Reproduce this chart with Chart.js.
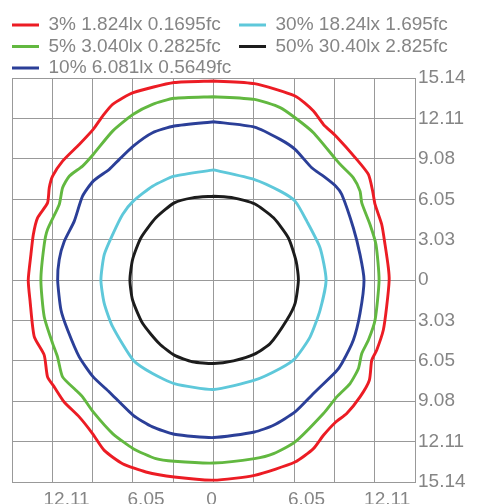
<!DOCTYPE html>
<html><head><meta charset="utf-8">
<script src="https://cdn.jsdelivr.net/npm/chart.js@4.4.1/dist/chart.umd.min.js"></script>
<style>html,body{margin:0;padding:0;background:#fff;overflow:hidden}canvas{display:block}</style>
</head><body>
<canvas id="c" width="484" height="504"></canvas>
<script>
// ---- data ----
const seriesLabels = ['3% 1.824lx 0.1695fc', '30% 18.24lx 1.695fc', '5% 3.040lx 0.2825fc', '50% 30.40lx 2.825fc', '10% 6.081lx 0.5649fc'];

const s3X = [0,3.08,6.13,7.51,8.26,9.19,10.76,11.64,11.96,12.14,12.64,12.89,13.14,13.2,13.01,12.76,12.26,11.89,11.71,11.01,10.01,9.19,8.26,7.51,6.13,3.08,0,-2.95,-5.08,-6.83,-8.21,-9.09,-10.09,-11.22,-11.97,-12.47,-12.72,-13.47,-13.79,-13.92,-13.72,-13.54,-13.22,-12.47,-12.34,-12.09,-11.34,-10.09,-9.04,-8.33,-7.58,-6.03,-2.95,0];
const s3Y = [14.92,14.72,13.79,12.67,11.66,10.79,9.04,7.91,6.66,5.66,4.16,2.65,0.9,0,-2.0,-3.75,-5.26,-6.01,-7.51,-8.76,-10.01,-10.64,-11.64,-12.64,-13.64,-14.64,-15.0,-14.77,-14.39,-13.77,-12.77,-11.51,-10.26,-9.14,-8.01,-7.26,-5.63,-4.25,-1.5,0,1.9,3.4,4.66,5.78,6.91,7.78,8.91,10.16,11.29,12.29,13.17,14.04,14.8,14.92];

const s5X = [0,3.08,5.01,6.13,7.51,9.19,9.64,10.51,11.01,11.14,11.76,12.21,12.44,12.14,11.64,11.14,10.89,10.26,9.26,8.26,6.13,4.51,3.08,0,-2.95,-4.33,-6.03,-7.58,-9.04,-9.84,-10.34,-11.34,-11.72,-12.09,-12.72,-12.97,-12.72,-12.47,-11.59,-11.34,-10.84,-9.84,-9.04,-7.58,-6.03,-4.58,-2.95,0];
const s5Y = [13.74,13.54,12.92,12.16,11.04,9.04,8.54,7.66,6.66,5.78,4.16,2.65,0,-3.0,-4.5,-5.51,-6.63,-7.76,-8.76,-10.01,-12.14,-13.02,-13.39,-13.72,-13.59,-13.39,-12.64,-11.51,-9.89,-8.76,-8.26,-7.26,-5.76,-4.75,-2.75,0,2.65,3.78,5.66,6.91,7.78,8.54,9.41,11.16,12.42,13.17,13.62,13.74];

const s10X = [0,3.08,5.01,6.13,7.38,8.26,9.19,9.64,10.51,11.01,11.31,11.01,10.51,9.64,9.19,7.51,6.13,4.51,3.08,0,-2.95,-4.58,-6.03,-7.83,-9.04,-10.09,-10.96,-11.46,-11.71,-11.59,-11.21,-10.46,-9.84,-9.04,-7.83,-7.08,-6.03,-4.58,-2.95,0];
const s10Y = [11.86,11.46,10.54,9.79,8.41,7.78,7.03,6.41,3.9,1.9,0,-2.5,-4.5,-6.26,-6.88,-8.51,-9.89,-10.89,-11.39,-11.81,-11.56,-11.01,-10.14,-8.39,-7.26,-5.76,-3.75,-2.25,0,1.53,2.9,4.41,6.28,7.41,8.29,9.04,10.04,11.04,11.54,11.86];

const s30X = [0,3.08,5.01,6.13,7.01,8.01,8.46,8.01,7.26,6.13,5.01,3.08,0,-2.95,-4.58,-6.03,-7.58,-8.21,-8.46,-8.21,-7.58,-6.83,-6.03,-4.58,-2.95,0];
const s30Y = [8.25,7.53,6.66,5.91,4.41,2.4,0,-2.25,-4.26,-5.88,-6.63,-7.51,-8.21,-7.76,-7.01,-6.01,-3.5,-1.75,0,1.9,3.4,4.91,5.91,7.03,7.78,8.25];

const s50X = [0,1.5,3.08,4.51,5.63,6.21,6.38,6.13,5.51,4.26,3.08,1.5,0,-1.58,-2.95,-4.08,-5.33,-6.08,-6.28,-6.08,-5.46,-4.33,-2.95,-1.58,0];
const s50Y = [6.28,6.16,5.71,4.66,3.15,1.4,0,-1.75,-3.0,-4.76,-5.56,-6.06,-6.26,-6.13,-5.63,-4.76,-3.25,-1.5,0,1.53,3.15,4.66,5.78,6.16,6.28];

const gridValues = [-15.14,-12.11,-9.08,-6.05,-3.03,0,3.03,6.05,9.08,12.11,15.14];
const yTickLabels = ['15.14','12.11','9.08','6.05','3.03','0','3.03','6.05','9.08','12.11','15.14'];
const xLabelValues = [-11.04,-5.07,-0.15,6.99,13.05];
const xTickLabels = ['12.11','6.05','0','6.05','12.11'];

// ---- styling ----
const FONT = "'Liberation Sans', Arial, Helvetica, sans-serif";
const TEXT = '#858585';
const GRID = '#999999';
const colors = ['#ec1c24', '#5ec8da', '#62b840', '#1c1c1c', '#2b3f98'];
const xs = [s3X, s30X, s5X, s50X, s10X];
const ys = [s3Y, s30Y, s5Y, s50Y, s10Y];

const datasets = seriesLabels.map((lab, i) => ({
  label: lab,
  data: xs[i].map((x, k) => ({x: x, y: ys[i][k]})),
  showLine: true,
  borderColor: colors[i],
  backgroundColor: colors[i],
  borderWidth: 2.9,
  pointRadius: 0,
  tension: 0.2,
  fill: false
}));

const setTicks = vals => scale => { scale.ticks = vals.map(v => ({value: v})); };

new Chart(document.getElementById('c'), {
  type: 'scatter',
  data: {datasets},
  options: {
    responsive: false,
    animation: false,
    devicePixelRatio: 1,
    layout: {padding: {left: 9.5, right: 0, top: 13, bottom: 0}},
    plugins: {
      tooltip: {enabled: false},
      legend: {
        position: 'top',
        align: 'start',
        maxHeight: 65,
        labels: {
          usePointStyle: true,
          pointStyle: 'line',
          pointStyleWidth: 27,
          padding: 2.5,
          color: TEXT,
          font: {family: FONT, size: 19},
          generateLabels(chart) {
            const items = Chart.defaults.plugins.legend.labels.generateLabels(chart);
            items.forEach(it => {
              const ds = chart.data.datasets[it.datasetIndex];
              it.text = it.text + '   ';
              it.lineWidth = 3;
              it.strokeStyle = ds.borderColor;
              it.pointStyle = 'line';
            });
            return items;
          }
        }
      }
    },
    scales: {
      x: {
        type: 'linear', position: 'bottom', min: -15.14, max: 15.14,
        afterBuildTicks: setTicks(gridValues),
        ticks: {display: false},
        grid: {color: GRID, lineWidth: 1, drawTicks: false},
        border: {color: GRID, width: 1},
        afterFit(s) { s.height = 0; }
      },
      xLab: {
        type: 'linear', position: 'bottom', min: -15.14, max: 15.14,
        afterBuildTicks: setTicks(xLabelValues),
        ticks: {
          color: TEXT, font: {family: FONT, size: 19}, padding: 6, maxRotation: 0, autoSkip: false,
          callback: (v, i) => xTickLabels[i]
        },
        grid: {display: false, drawTicks: false},
        border: {display: false},
        afterFit(s) { s.height = 22; }
      },
      y: {
        type: 'linear', position: 'right', min: -15.14, max: 15.14,
        afterBuildTicks: setTicks(gridValues),
        ticks: {
          color: TEXT, font: {family: FONT, size: 19}, padding: 3, autoSkip: false,
          callback: (v, i) => yTickLabels[i]
        },
        grid: {color: GRID, lineWidth: 1, drawTicks: false},
        border: {color: GRID, width: 1},
        afterFit(s) { s.width = 69; }
      },
      yLeft: {
        type: 'linear', position: 'left', min: -15.14, max: 15.14,
        ticks: {display: false},
        grid: {display: false, drawTicks: false},
        border: {display: false},
        afterFit(s) { s.width = 2.5; }
      }
    }
  }
});
</script></body></html>
